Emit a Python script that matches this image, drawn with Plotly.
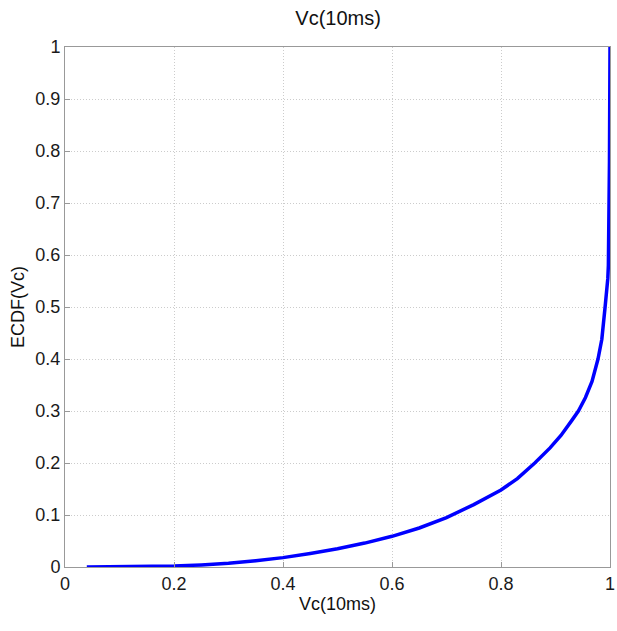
import plotly.graph_objects as go

vc = [0.04, 0.1, 0.15, 0.2, 0.25, 0.3, 0.35, 0.4, 0.45, 0.5, 0.55, 0.6, 0.65, 0.7,
      0.75, 0.8, 0.83, 0.862, 0.89, 0.91, 0.93, 0.942, 0.955, 0.967, 0.978, 0.985,
      0.991, 0.994, 0.996, 0.997, 0.998, 0.999, 1.0]
ecdf = [0.0, 0.0003, 0.001, 0.002, 0.004, 0.007, 0.012, 0.018, 0.026, 0.035, 0.046,
        0.059, 0.075, 0.095, 0.12, 0.148, 0.17, 0.2, 0.229, 0.253, 0.282, 0.3, 0.326,
        0.357, 0.4, 0.438, 0.5, 0.53, 0.555, 0.58, 0.65, 0.78, 1.0]

x_ticks = [0, 0.2, 0.4, 0.6, 0.8, 1]
x_ticktext = ["0", "0.2", "0.4", "0.6", "0.8", "1"]
y_ticks = [0, 0.1, 0.2, 0.3, 0.4, 0.5, 0.6, 0.7, 0.8, 0.9, 1]
y_ticktext = ["0", "0.1", "0.2", "0.3", "0.4", "0.5", "0.6", "0.7", "0.8", "0.9", "1"]

font = "Liberation Sans, Arial, sans-serif"

fig = go.Figure()
fig.add_trace(go.Scatter(x=vc, y=ecdf, mode="lines",
                         line=dict(color="#0000ff", width=3.5),
                         showlegend=False))

axis_common = dict(showline=True, linecolor="#999999", linewidth=1, mirror=True,
                   showgrid=True, gridcolor="#cccccc", griddash="1px,2px", gridwidth=1,
                   ticks="inside", ticklen=5, tickcolor="#999999", zeroline=False,
                   automargin=False, ticklabeloverflow="allow",
                   tickfont=dict(family=font, size=18, color="#1a1a1a"))

fig.update_layout(
    width=617, height=631,
    margin=dict(l=65, r=7, t=47, b=64),
    paper_bgcolor="white", plot_bgcolor="white",
    title=dict(text="Vc(10ms)", x=0.548, xanchor="center", y=0.972, yanchor="middle",
               font=dict(family=font, size=20, color="#111111")),
    xaxis=dict(range=[0, 1], tickvals=x_ticks, ticktext=x_ticktext,
               title=dict(text="Vc(10ms)", standoff=4,
                          font=dict(family=font, size=18, color="#111111")),
               **axis_common),
    yaxis=dict(range=[0, 1], tickvals=y_ticks, ticktext=y_ticktext,
               title=dict(text="ECDF(Vc)", standoff=6,
                          font=dict(family=font, size=18, color="#111111")),
               **axis_common),
)

fig.write_html("out.html", config={"displayModeBar": False},
               post_script="document.body.style.margin='0';")
